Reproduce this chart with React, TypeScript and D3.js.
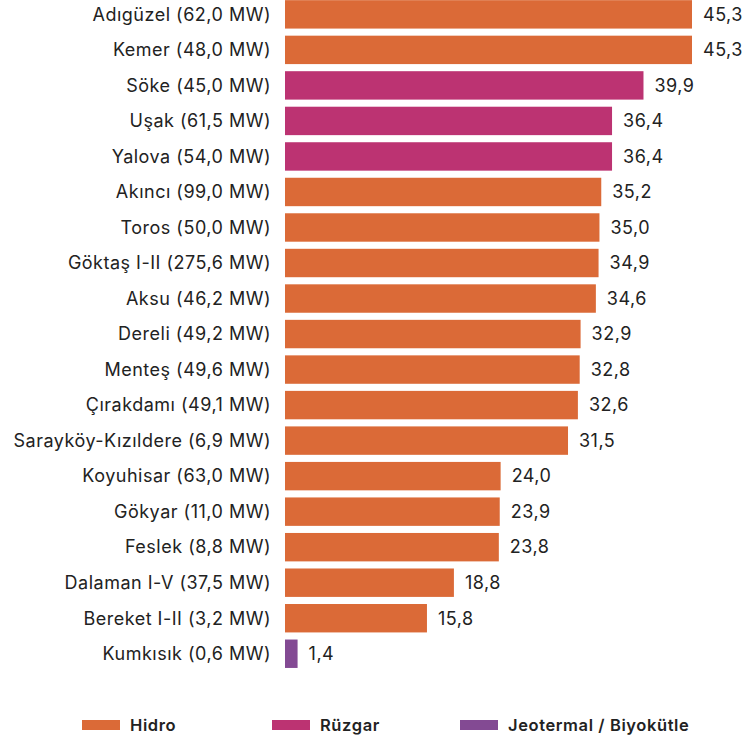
import React from "react";
import * as d3 from "d3";

const categories = [
  "Adıgüzel (62,0 MW)",
  "Kemer (48,0 MW)",
  "Söke (45,0 MW)",
  "Uşak (61,5 MW)",
  "Yalova (54,0 MW)",
  "Akıncı (99,0 MW)",
  "Toros (50,0 MW)",
  "Göktaş I-II (275,6 MW)",
  "Aksu (46,2 MW)",
  "Dereli (49,2 MW)",
  "Menteş (49,6 MW)",
  "Çırakdamı (49,1 MW)",
  "Sarayköy-Kızıldere (6,9 MW)",
  "Koyuhisar (63,0 MW)",
  "Gökyar (11,0 MW)",
  "Feslek (8,8 MW)",
  "Dalaman I-V (37,5 MW)",
  "Bereket I-II (3,2 MW)",
  "Kumkısık (0,6 MW)",
];
const values = [45.3, 45.3, 39.9, 36.4, 36.4, 35.2, 35.0, 34.9, 34.6, 32.9, 32.8, 32.6, 31.5, 24.0, 23.9, 23.8, 18.8, 15.8, 1.4];
const types = ["h", "h", "r", "r", "r", "h", "h", "h", "h", "h", "h", "h", "h", "h", "h", "h", "h", "h", "j"];
const legendKeys = ["h", "r", "j"];
const legendLabels = ["Hidro", "Rüzgar", "Jeotermal / Biyokütle"];
const colors = ["#DB6A37", "#BC3372", "#834A93"];

const W = 745;
const H = 741;
const FONT = "Inter, 'Open Sans', sans-serif";

export default function App() {
  const x = d3.scaleLinear().domain([0, 45.3]).range([285, 692]);
  const y = d3.scaleBand().domain(categories).range([-3.4, 671.5]).paddingInner(0.2).paddingOuter(0.1);
  const color = d3.scaleOrdinal<string, string>().domain(legendKeys).range(colors);
  const legendX = d3.scaleOrdinal<string, number>().domain(legendKeys).range([82, 272, 460]);
  const fmt = (v: number) => v.toFixed(1).replace(".", ",");
  return (
    <svg width={W} height={H} style={{ position: "absolute", left: 0, top: 0 }} fontFamily={FONT}>
      {categories.map((c, i) => {
        const yy = y(c)!;
        const bw = y.bandwidth();
        return (
          <g key={c}>
            <text x={271} y={yy + bw / 2} dy="0.35em" textAnchor="end" fontSize={18} letterSpacing={0.5} fill="#222">
              {c}
            </text>
            <rect x={x(0)} y={yy} width={x(values[i]) - x(0)} height={bw} fill={color(types[i])} />
            <text x={x(values[i]) + 11} y={yy + bw / 2} dy="0.35em" fontSize={18} letterSpacing={0.5} fill="#222">
              {fmt(values[i])}
            </text>
          </g>
        );
      })}
      {legendKeys.map((k, i) => (
        <g key={k} transform={`translate(${legendX(k)},725)`}>
          <rect x={0} y={-5} width={38} height={10} fill={color(k)} />
          <text x={48} y={0} dy="0.35em" fontSize={16.5} letterSpacing={0.6} fontWeight={600} fill="#222">
            {legendLabels[i]}
          </text>
        </g>
      ))}
    </svg>
  );
}
